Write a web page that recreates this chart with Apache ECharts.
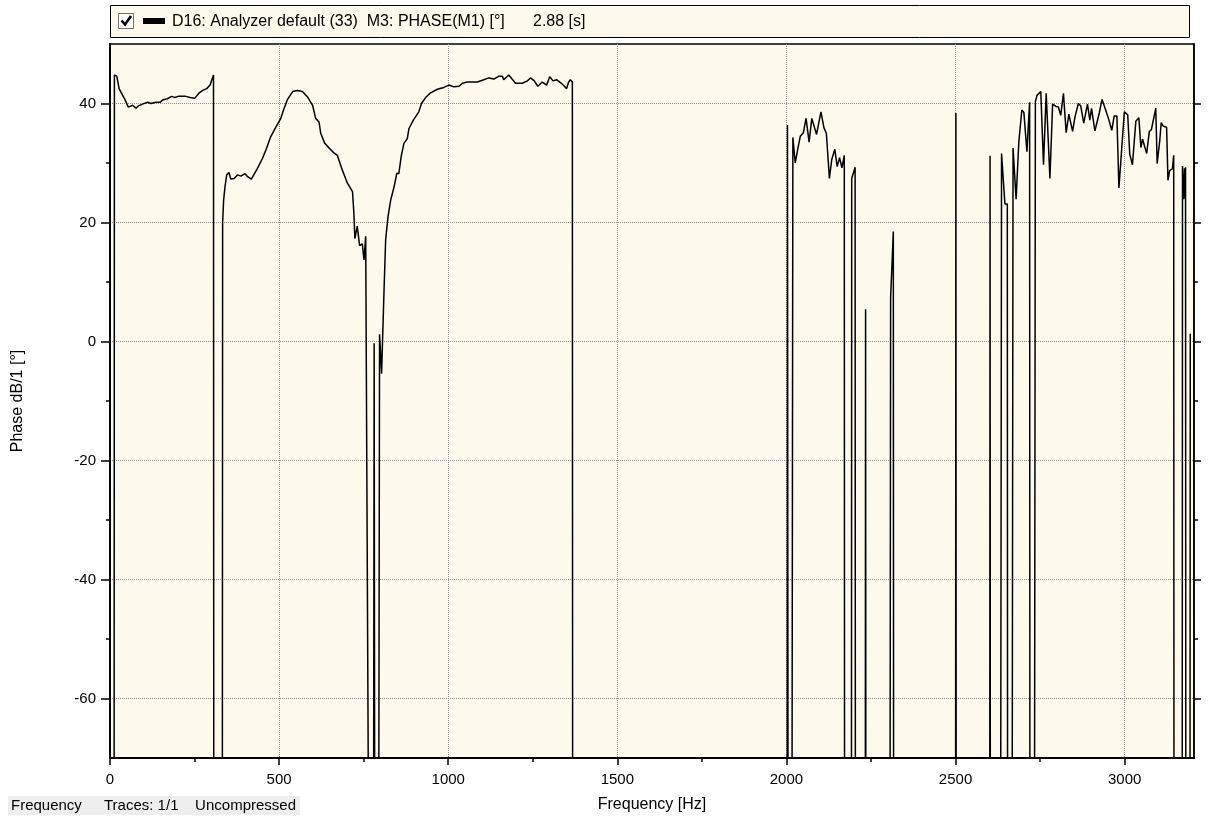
<!DOCTYPE html>
<html>
<head>
<meta charset="utf-8">
<script src="https://cdn.jsdelivr.net/npm/echarts@6/dist/echarts.min.js"></script>
<style>
  html, body { margin: 0; padding: 0; background: #ffffff; }
  #chart { width: 1214px; height: 819px; }
</style>
</head>
<body>
<div id="chart"></div>
<script>
// Phase trace of M3: PHASE(M1). Values below the axis floor (-100) mark dropouts
// and are drawn as vertical strokes running off the bottom of the plot.
const freqHz = [
  12, 13, 20, 27, 37, 44, 54, 67, 77, 84, 96, 111, 121, 136, 149, 155, 170, 182, 192, 202,
  224, 237, 251, 264, 274, 286, 296, 306, 307,
  332, 333, 336, 340, 345, 352, 357, 367, 377, 387, 399, 407, 418, 428, 436, 451, 461, 475,
  490, 505, 513, 525, 540, 554, 569, 584, 599, 608, 618, 623, 635, 648, 662, 672, 687, 702,
  717, 721, 724, 731, 738, 746, 751, 756, 766,
  779, 781, 783,
  794, 797, 803, 810, 815, 822, 830, 840, 848, 854, 861, 869, 879, 884, 897, 913, 921, 933,
  948, 968, 987, 1002, 1017, 1032, 1042, 1056, 1071, 1086, 1101, 1120, 1135, 1150, 1160,
  1164, 1179, 1199, 1219, 1234, 1243, 1253, 1265, 1278, 1291, 1300, 1310, 1320, 1332, 1340,
  1350, 1356, 1361, 1367, 1368,
  2002, 2003, 2005,
  2016, 2019, 2026, 2033, 2041, 2050, 2058, 2067, 2075, 2089, 2102, 2111, 2118, 2127, 2134,
  2143, 2150, 2157, 2164, 2171, 2172,
  2192, 2193, 2203, 2204,
  2233, 2234, 2235,
  2306, 2308, 2316, 2317,
  2500, 2501, 2502,
  2601, 2602, 2603,
  2633, 2636, 2646, 2653, 2654,
  2667, 2670, 2679, 2687, 2696, 2702, 2711, 2719, 2720,
  2733, 2736, 2741, 2752, 2760, 2768, 2779, 2787, 2797, 2804, 2811, 2819, 2827, 2835, 2846,
  2853, 2863, 2870, 2879, 2890, 2897, 2902, 2912, 2917, 2925, 2933, 2945, 2952, 2962, 2969,
  2977, 2983, 2999, 3009, 3015, 3023, 3033, 3042, 3048, 3053, 3065, 3073, 3079, 3092, 3096,
  3104, 3108, 3114, 3124, 3128, 3133, 3141, 3145, 3146,
  3170, 3171, 3175, 3177, 3178, 3180, 3181,
  3193, 3194
];

const phaseDeg = [
  -100, 44.8, 44.6, 42.5, 41.4, 40.7, 39.4, 39.7, 39.2, 39.6, 39.9, 40.2, 40.0, 40.2, 40.2, 40.6, 40.8, 41.2, 41.0, 41.2,
  41.2, 41.0, 40.9, 41.8, 42.2, 42.5, 43.1, 44.8, -100,
  -100, 20, 23.8, 26, 28, 28.4, 27.3, 27.4, 28, 27.8, 28.2, 27.7, 27.3, 28.3, 29.1, 30.8, 32.2, 34.4,
  36, 37.5, 38.9, 40.7, 42, 42.2, 42, 41.1, 39.7, 37.5, 36.9, 35, 33.3, 32.5, 31.7, 31.3, 28.8, 26.6,
  25.2, 21.6, 17.3, 19.4, 16.1, 16.4, 13.7, 17.7, -100,
  -100, -0.3, -100,
  -100, 1.2, -5.4, 8.2, 17.1, 21, 23.8, 26, 28.3, 28.2, 31.1, 33.3, 34.1, 35.8, 37.2, 38.6, 40, 41,
  41.8, 42.4, 42.7, 43.1, 42.8, 42.9, 43.4, 43.6, 43.6, 43.6, 43.9, 44.3, 44.1, 44.6, 44.6,
  44, 44.8, 43.4, 43.4, 43.8, 44.3, 43.9, 42.9, 43.6, 43.1, 44.5, 43.8, 44, 43.5, 43.1,
  42.5, 43.6, 44, 43.6, -100,
  -100, 36.4, -100,
  -100, 34.3, 30, 32.2, 34.5, 35.1, 37.5, 33.5, 37.5, 34.8, 38.6, 35.9, 35, 27.4, 30.6,
  32.3, 29.4, 30.9, 29.2, 31.3, -100,
  -100, 27.4, 29.3, -100,
  -100, 5.4, -100,
  -100, 7.3, 18.5, -100,
  -100, 38.4, -100,
  -100, 31.2, -100,
  -100, 31.6, 23.1, 23.1, -100,
  -100, 32.5, 23.9, 33.5, 38.9, 38.5, 31.9, 40.2, -100,
  -100, 40.3, 41.4, 42, 29.7, 41.7, 27.4, 39.9, 39.5, 39.4, 38, 41.7, 35.1, 38.2, 35.3,
  37.7, 40, 39.6, 36.7, 39.9, 37.2, 39.2, 35.4, 35.1, 38.4, 40.7, 38.7, 37.5, 35.5, 37.9,
  37.9, 25.8, 38.6, 38.1, 31.5, 29.7, 37, 37.6, 32.6, 34, 31.6, 35.3, 35.6, 39.2, 29.9,
  33.9, 36.8, 36.2, 36, 27.1, 28.7, 29, 31.3, -100,
  -100, 29.5, 23.9, 29.1, 24.2, 29.3, -100,
  -100, 1.3
];

const xMajorTicks = [0, 500, 1000, 1500, 2000, 2500, 3000];
const xMinorTicks = [250, 750, 1250, 1750, 2250, 2750];
const yMajorTicks = [-60, -40, -20, 0, 20, 40];
const yMinorTicks = [-50, -30, -10, 10, 30];

const traceName = 'D16: Analyzer default (33)  M3: PHASE(M1) [°]';
const traceTime = '2.88 [s]';
const statusParts = ['Frequency', 'Traces: 1/1', 'Uncompressed'];

const FONT = '"Liberation Sans", Arial, sans-serif';
const PLOT_BG = '#fdf9ec';
const X_MIN = 0, X_MAX = 3205, Y_MIN = -70, Y_MAX = 50;

const points = freqHz.map((f, i) => [f, phaseDeg[i]]);

const gridDots = { show: true, lineStyle: { color: '#8c8c8c', width: 1, type: [1, 1] } };
const plainNumber = v => String(v);

function majorX() {
  return {
    type: 'value', min: X_MIN, max: X_MAX, position: 'bottom',
    axisLine: { show: true, onZero: false, lineStyle: { color: '#000', width: 2 } },
    axisTick: { show: true, inside: false, length: 7, customValues: xMajorTicks, lineStyle: { color: '#000', width: 1.5 } },
    axisLabel: { show: true, customValues: xMajorTicks, formatter: plainNumber, margin: 14,
                 color: '#000', fontFamily: FONT, fontSize: 15 },
    splitLine: gridDots,
    name: 'Frequency [Hz]', nameLocation: 'middle', nameGap: 39,
    nameTextStyle: { color: '#000', fontFamily: FONT, fontSize: 16 }
  };
}
function minorX() {
  return {
    type: 'value', min: X_MIN, max: X_MAX, position: 'bottom',
    axisLine: { show: false, onZero: false },
    axisTick: { show: true, length: 4, customValues: xMinorTicks, lineStyle: { color: '#000', width: 1.5 } },
    axisLabel: { show: false }, splitLine: { show: false }
  };
}
function yAxisOf(position, ticks, len, withLabels) {
  const ax = {
    type: 'value', min: Y_MIN, max: Y_MAX, position: position,
    axisLine: { show: len > 5, onZero: false, lineStyle: { color: '#000', width: position === 'left' ? 2 : 1.5 } },
    axisTick: { show: true, inside: false, length: len, customValues: ticks, lineStyle: { color: '#000', width: 1.5 } },
    axisLabel: withLabels
      ? { show: true, customValues: ticks, formatter: plainNumber, margin: 14,
          color: '#000', fontFamily: FONT, fontSize: 15 }
      : { show: false },
    splitLine: withLabels ? gridDots : { show: false }
  };
  if (withLabels) {
    ax.name = 'Phase dB/1 [°]';
    ax.nameLocation = 'middle';
    ax.nameGap = 84;
    ax.nameRotate = 90;
    ax.nameTextStyle = { color: '#000', fontFamily: FONT, fontSize: 16 };
  }
  return ax;
}

const chart = echarts.init(document.getElementById('chart'), null, { renderer: 'canvas' });

chart.setOption({
  animation: false,
  backgroundColor: '#ffffff',
  grid: {
    left: 110, right: 20, top: 44, bottom: 61,
    show: true, backgroundColor: PLOT_BG, borderColor: '#000', borderWidth: 1.5
  },
  xAxis: [majorX(), minorX()],
  yAxis: [
    yAxisOf('left', yMajorTicks, 9, true),
    yAxisOf('left', yMinorTicks, 4, false),
    yAxisOf('right', yMajorTicks, 7, false),
    yAxisOf('right', yMinorTicks, 4, false)
  ],
  series: [{
    name: traceName,
    type: 'line',
    xAxisIndex: 0, yAxisIndex: 0,
    data: points,
    showSymbol: false,
    clip: true,
    lineStyle: { color: '#000', width: 1.5 },
    emphasis: { disabled: true }
  }],
  graphic: [
    // trace legend bar
    { type: 'rect', shape: { x: 110.5, y: 5.5, width: 1079, height: 32 },
      style: { fill: PLOT_BG, stroke: '#000', lineWidth: 1 }, silent: true },
    { type: 'rect', shape: { x: 118.5, y: 13.5, width: 15, height: 15 },
      style: { fill: '#ffffff', stroke: '#6f6f6f', lineWidth: 1 }, silent: true },
    { type: 'polyline', shape: { points: [[121.5, 20.5], [125, 24.5], [131, 16]] },
      style: { stroke: '#000', lineWidth: 2.6, fill: null }, silent: true },
    { type: 'rect', shape: { x: 143, y: 18, width: 22, height: 6 },
      style: { fill: '#000' }, silent: true },
    { type: 'text', x: 172, y: 22,
      style: { text: traceName, font: '16px ' + FONT, fill: '#000', verticalAlign: 'middle' }, silent: true },
    { type: 'text', x: 533, y: 22,
      style: { text: traceTime, font: '16px ' + FONT, fill: '#000', verticalAlign: 'middle' }, silent: true },
    // status strip
    { type: 'rect', shape: { x: 8, y: 796, width: 292, height: 19 },
      style: { fill: '#eeeeee' }, silent: true },
    { type: 'text', x: 11, y: 805.5,
      style: { text: statusParts[0], font: '15px ' + FONT, fill: '#000', verticalAlign: 'middle' }, silent: true },
    { type: 'text', x: 104, y: 805.5,
      style: { text: statusParts[1], font: '15px ' + FONT, fill: '#000', verticalAlign: 'middle' }, silent: true },
    { type: 'text', x: 296, y: 805.5,
      style: { text: statusParts[2], font: '15px ' + FONT, fill: '#000', verticalAlign: 'middle', align: 'right' }, silent: true }
  ]
});
</script>
</body>
</html>
